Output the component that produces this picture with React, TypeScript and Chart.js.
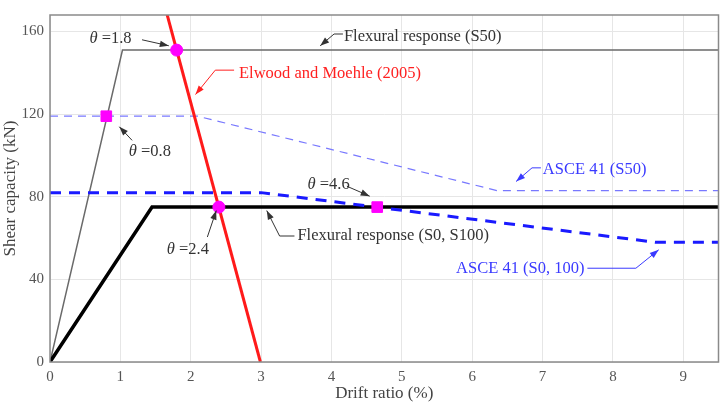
import React, { useEffect, useRef } from 'react';
import { Chart, registerables } from 'chart.js';
Chart.register(...registerables);

// Flexural response (S50)
const flexS50X = [0, 1.03, 9.5];
const flexS50Y = [0, 151, 151];
// Flexural response (S0, S100)
const flexS0X = [0, 1.45, 9.5];
const flexS0Y = [0, 75, 75];
// Elwood and Moehle (2005)
const elwoodX = [1.65, 2.99];
const elwoodY = [170, 0];
// ASCE 41 (S50)
const asceS50X = [0, 2.1, 6.35, 9.5];
const asceS50Y = [119, 119, 83, 83];
// ASCE 41 (S0, 100)
const asceS0X = [0, 3.0, 8.6, 9.5];
const asceS0Y = [82, 82, 58, 58];
// markers
const squareX = [0.8, 4.65];
const squareY = [119, 75];
const circleX = [1.8, 2.4];
const circleY = [151, 75];

const xTitle = 'Drift ratio (%)';
const yTitle = 'Shear capacity (kN)';

const pts = (xs: number[], ys: number[]) => xs.map((x, i) => ({ x, y: ys[i] }));

type Ann = { text: string; theta?: boolean; x: number; y: number; color: string; align?: 'left' | 'right'; path: number[][] };
const annotations: Ann[] = [
  { text: ' =1.8', theta: true, x: 0.56, y: 156.4, color: '#333', path: [[1.308, 156.0], [1.688, 153.1]] },
  { text: 'Flexural response (S50)', x: 4.177, y: 157.4, color: '#333', path: [[4.163, 158.8], [4.037, 158.8], [3.84, 153.1]] },
  { text: 'Elwood and Moehle (2005)', x: 2.686, y: 139.4, color: '#ff2020', path: [[2.616, 141.3], [2.349, 141.3], [2.068, 129.5]] },
  { text: ' =0.8', theta: true, x: 1.12, y: 101.6, color: '#333', path: [[1.167, 107.3], [0.985, 113.9]] },
  { text: 'ASCE 41 (S50)', x: 7.004, y: 93.1, color: '#3a3aff', path: [[6.976, 94.0], [6.85, 94.0], [6.624, 87.4]] },
  { text: ' =4.6', theta: true, x: 3.66, y: 86.0, color: '#333', path: [[4.219, 85.1], [4.543, 80.3]] },
  { text: ' =2.4', theta: true, x: 1.66, y: 54.3, color: '#333', path: [[2.236, 60.5], [2.363, 73.3]] },
  { text: 'Flexural response (S0, S100)', x: 3.516, y: 61.4, color: '#333', path: [[3.474, 61.0], [3.263, 61.0], [3.08, 73.3]] },
  { text: 'ASCE 41 (S0, 100)', x: 7.595, y: 45.4, color: '#3a3aff', align: 'right', path: [[7.637, 45.4], [8.326, 45.4], [8.65, 54.3]] },
];

const FONT = '"Liberation Serif", "DejaVu Serif", serif';
const ANN_SIZE = 16.5;

const annPlugin = {
  id: 'annPlugin',
  afterDatasetsDraw(chart: any) {
    const { ctx, chartArea: a, scales } = chart;
    const xs = scales.x, ys = scales.y;
    ctx.save();
    // frame
    ctx.strokeStyle = '#8a8a8a';
    ctx.lineWidth = 1.5;
    ctx.strokeRect(a.left, a.top, a.right - a.left, a.bottom - a.top);
    for (const an of annotations) {
      const px = an.path.map(p => [xs.getPixelForValue(p[0]), ys.getPixelForValue(p[1])]);
      ctx.strokeStyle = an.color;
      ctx.fillStyle = an.color;
      ctx.lineWidth = 1;
      ctx.beginPath();
      px.forEach((p, i) => (i ? ctx.lineTo(p[0], p[1]) : ctx.moveTo(p[0], p[1])));
      ctx.stroke();
      const [x1, y1] = px[px.length - 2];
      const [x2, y2] = px[px.length - 1];
      const ang = Math.atan2(y2 - y1, x2 - x1);
      const L = 9, W = 3.2;
      ctx.beginPath();
      ctx.moveTo(x2, y2);
      ctx.lineTo(x2 - L * Math.cos(ang) + W * Math.sin(ang), y2 - L * Math.sin(ang) - W * Math.cos(ang));
      ctx.lineTo(x2 - L * Math.cos(ang) - W * Math.sin(ang), y2 - L * Math.sin(ang) + W * Math.cos(ang));
      ctx.closePath();
      ctx.fill();
      const tx = xs.getPixelForValue(an.x);
      const ty = ys.getPixelForValue(an.y);
      ctx.textBaseline = 'middle';
      ctx.font = `${ANN_SIZE}px ${FONT}`;
      if (an.theta) {
        ctx.textAlign = 'left';
        ctx.font = `italic ${ANN_SIZE}px ${FONT}`;
        ctx.fillText('θ', tx, ty);
        const w = ctx.measureText('θ').width;
        ctx.font = `${ANN_SIZE}px ${FONT}`;
        ctx.fillText(an.text, tx + w, ty);
      } else {
        ctx.textAlign = an.align === 'right' ? 'right' : 'left';
        ctx.fillText(an.text, tx, ty);
      }
    }
    ctx.restore();
  },
};

export default function App() {
  const ref = useRef<HTMLCanvasElement>(null);
  useEffect(() => {
    document.body.style.margin = '0';
    const chart = new Chart(ref.current!, {
      type: 'scatter',
      data: {
        datasets: [
          { data: pts(squareX, squareY), pointStyle: 'rect', pointRadius: 7.5, backgroundColor: '#ff00ff', borderColor: '#ff00ff', order: 0, showLine: false },
          { data: pts(circleX, circleY), pointStyle: 'circle', pointRadius: 6, backgroundColor: '#ff00ff', borderColor: '#ff00ff', order: 0, showLine: false },
          { data: pts(elwoodX, elwoodY), showLine: true, borderColor: '#ff1a1a', borderWidth: 3, pointRadius: 0, order: 1 },
          { data: pts(flexS0X, flexS0Y), showLine: true, borderColor: '#000', borderWidth: 3.5, pointRadius: 0, order: 3 },
          { data: pts(asceS0X, asceS0Y), showLine: true, borderColor: '#1a1aff', borderWidth: 3, borderDash: [11, 8], pointRadius: 0, order: 2 },
          { data: pts(flexS50X, flexS50Y), showLine: true, borderColor: '#6a6a6a', borderWidth: 1.5, pointRadius: 0, order: 4 },
          { data: pts(asceS50X, asceS50Y), showLine: true, borderColor: '#7878ff', borderWidth: 1.2, borderDash: [8, 6], pointRadius: 0, order: 5 },
        ] as any,
      },
      options: {
        responsive: false,
        animation: false,
        layout: { padding: { top: 6, right: 4, left: 0, bottom: 0 } },
        plugins: { legend: { display: false }, tooltip: { enabled: false } },
        scales: {
          x: {
            type: 'linear', min: 0, max: 9.5,
            ticks: { stepSize: 1, includeBounds: false, color: '#555', font: { family: FONT, size: 15 }, padding: 6 },
            grid: { color: '#e6e6e6', drawTicks: false },
            border: { display: false },
            title: { display: true, text: xTitle, color: '#444', font: { family: FONT, size: 17 }, padding: { top: 0, bottom: 0 } },
            afterFit: (s: any) => { s.height = 42; },
          },
          y: {
            type: 'linear', min: 0, max: 168,
            ticks: { stepSize: 40, includeBounds: false, color: '#555', font: { family: FONT, size: 15 }, padding: 6 },
            grid: { color: '#e6e6e6', drawTicks: false },
            border: { display: false },
            title: { display: true, text: yTitle, color: '#444', font: { family: FONT, size: 17 }, padding: { top: 0, bottom: 2 } },
            afterFit: (s: any) => { s.width = 50; },
          },
        },
      } as any,
      plugins: [annPlugin],
    });
    return () => chart.destroy();
  }, []);
  return (
    <div style={{ width: 727, height: 404 }}>
      <canvas ref={ref} width={727} height={404} style={{ display: 'block' }} />
    </div>
  );
}
